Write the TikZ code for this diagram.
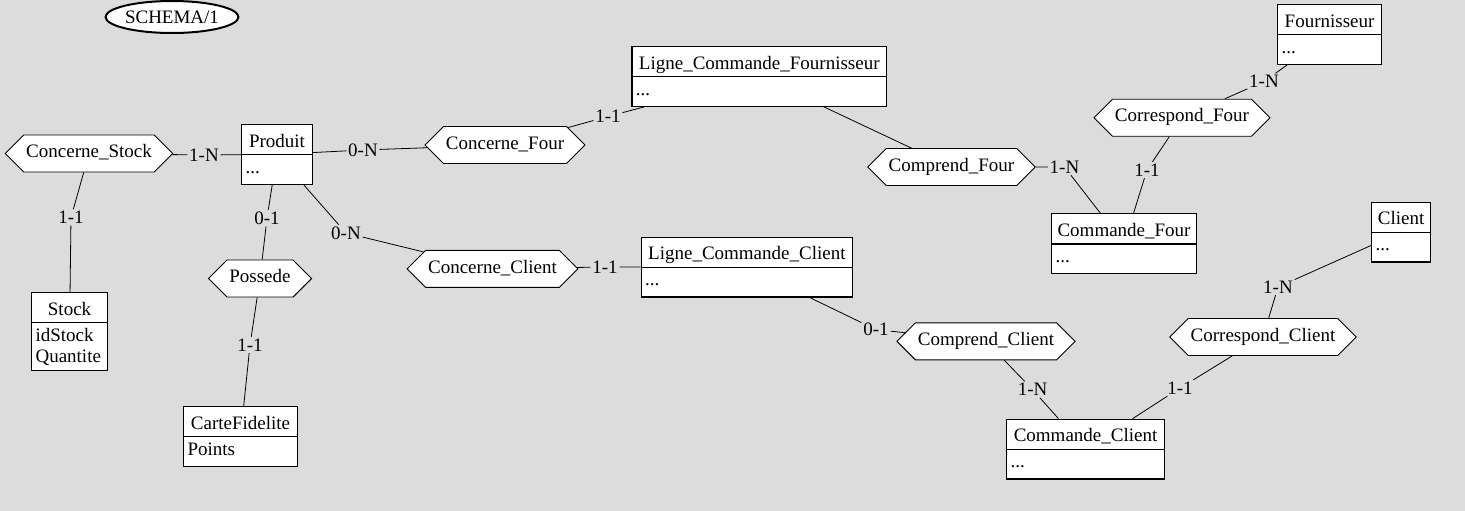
\documentclass[tikz,border=0pt]{standalone}
\usepackage{fontspec}
\setmainfont{Liberation Serif}
\usetikzlibrary{shapes.geometric, shapes.symbols, shapes.multipart}
\definecolor{fond}{RGB}{220,220,220}
\newcommand{\ttl}[1]{\rule[-7pt]{0pt}{29pt}#1}
\newcommand{\atr}[1]{\rule[-10.5pt]{0pt}{28.5pt}#1}

\begin{document}
\begin{tikzpicture}[
            x = 1pt, y = -1pt, % one unit = one pixel, y downwards
            font = \fontsize{19}{21}\selectfont,
            line width = 0.8pt % line style
        ]

        \tikzstyle{entite}=[
            draw = black,
            fill = white,
            line width = 1.1pt,
            rectangle split,
            rectangle split parts = 2,
            rectangle split part align = {center, left},
            align = left,
            anchor = north west,
            inner xsep = 4pt,
            inner ysep = 0pt
        ]
        \tikzstyle{assoc}=[
            draw = black,
            fill = white,
            line width = 0.9pt,
            signal,
            signal to = east and west,
            signal pointer angle = 90,
            inner xsep = 2.5pt,
            inner ysep = 8pt
        ]
        \tikzstyle{card}=[fill = fond, inner sep = 1.5pt]

        % background
        \fill[fond] (0,0) rectangle (1465,511);

        \node[ellipse, draw, line width = 2pt, fill = white, minimum width = 120pt,
              minimum height = 32pt, inner sep = 0pt] (schema) at (172,17) {SCHEMA/1};

        % entities
        \node[entite, minimum width = 71pt] (produit) at (241,124)
            {\ttl{Produit} \nodepart{two} \atr{...}};
        \node[entite, minimum width = 76pt] (stock) at (31,292)
            {\ttl{Stock} \nodepart{two} \rule{0pt}{18pt}idStock\\ \rule[-8pt]{0pt}{0pt}Quantite};
        \node[entite, minimum width = 114pt] (carte) at (183,406)
            {\ttl{CarteFidelite} \nodepart{two} \atr{Points}};
        \node[entite, minimum width = 254.6pt] (lcf) at (631.4,46)
            {\ttl{Ligne\_Commande\_Fournisseur} \nodepart{two} \atr{...}};
        \node[entite, minimum width = 211.4pt] (lcc) at (640.6,236.7)
            {\ttl{Ligne\_Commande\_Client} \nodepart{two} \atr{...}};
        \node[entite, minimum width = 145pt] (cmdfour) at (1051,213.3)
            {\ttl{Commande\_Four} \nodepart{two} \atr{...}};
        \node[entite, minimum width = 104pt] (fournisseur) at (1277,4.3)
            {\ttl{Fournisseur} \nodepart{two} \atr{...}};
        \node[entite, minimum width = 59pt] (client) at (1371,201.7)
            {\ttl{Client} \nodepart{two} \atr{...}};
        \node[entite, minimum width = 158pt] (cmdclient) at (1006,418.7)
            {\ttl{Commande\_Client} \nodepart{two} \atr{...}};

        % associations
        \node[assoc] (cstock) at (89,153.5) {\strut Concerne\_Stock};
        \node[assoc] (possede) at (260,278.5) {\strut Possede};
        \node[assoc] (cfour) at (505,145) {\strut Concerne\_Four};
        \node[assoc] (cclient) at (492.5,268.8) {\strut Concerne\_Client};
        \node[assoc] (comprfour) at (951.5,167) {\strut Comprend\_Four};
        \node[assoc] (corrfour) at (1182,117.7) {\strut Correspond\_Four};
        \node[assoc] (comprclient) at (986,341.3) {\strut Comprend\_Client};
        \node[assoc] (corrclient) at (1263,337) {\strut Correspond\_Client};

        % cardinalities
        \node[card] (k1) at (204,155) {1-N};
        \node[card] (k2) at (71,217.5) {1-1};
        \node[card] (k3) at (267,218) {0-1};
        \node[card] (k4) at (250,345) {1-1};
        \node[card] (k5) at (363,150) {0-N};
        \node[card] (k6) at (608,116.5) {1-1};
        \node[card] (k8) at (1064.5,167) {1-N};
        \node[card] (k9) at (1264,81.5) {1-N};
        \node[card] (k10) at (1147,170) {1-1};
        \node[card] (k11) at (346,233) {0-N};
        \node[card] (k12) at (605,267) {1-1};
        \node[card] (k13) at (876,329.6) {0-1};
        \node[card] (k14) at (1032.6,389.6) {1-N};
        \node[card] (k15) at (1278,287) {1-N};
        \node[card] (k16) at (1180,388) {1-1};

        % links
        \draw (cstock) -- (k1) -- (produit);
        \draw (cstock) -- (k2) -- (stock);
        \draw (produit) -- (k3) -- (possede);
        \draw (possede) -- (k4) -- (carte);
        \draw (produit) -- (k5) -- (cfour);
        \draw (cfour) -- (k6) -- (lcf);
        \draw (lcf) -- (comprfour);
        \draw (comprfour) -- (k8) -- (cmdfour);
        \draw (corrfour) -- (k9) -- (fournisseur);
        \draw (corrfour) -- (k10) -- (cmdfour);
        \draw (produit) -- (k11) -- (cclient);
        \draw (cclient) -- (k12) -- (lcc);
        \draw (lcc) -- (k13) -- (comprclient);
        \draw (comprclient) -- (k14) -- (cmdclient);
        \draw (corrclient) -- (k15) -- (client);
        \draw (corrclient) -- (k16) -- (cmdclient);
    \end{tikzpicture}
\end{document}
